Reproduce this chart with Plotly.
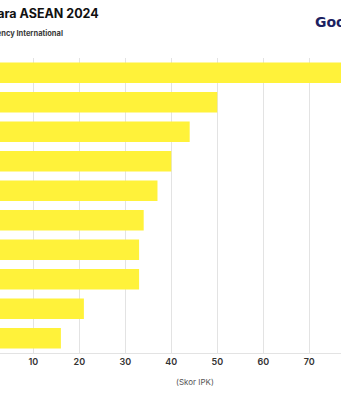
import plotly.graph_objects as go

# Corruption Perceptions Index 2024, ASEAN members (highest first)
countries = ["Singapura", "Malaysia", "Timor Leste", "Vietnam", "Indonesia",
             "Thailand", "Laos", "Filipina", "Kamboja", "Myanmar"]
scores = [84, 50, 44, 40, 37, 34, 33, 33, 21, 16]
x_ticks = [10, 20, 30, 40, 50, 60, 70]

W, H = 341, 400
BAR_COLOR = "#FFF23A"
WIDE = "DejaVu Sans, Verdana, sans-serif"

fig = go.Figure(
    go.Bar(
        x=scores,
        y=countries,
        orientation="h",
        marker=dict(color=BAR_COLOR, line=dict(width=0)),
        hoverinfo="x+y",
    )
)

fig.update_layout(
    width=W,
    height=H,
    margin=dict(l=0, r=0, t=58, b=47),
    paper_bgcolor="white",
    plot_bgcolor="white",
    bargap=0.3,
    showlegend=False,
    font=dict(family="Inter, Roboto, sans-serif", color="#333333"),
    xaxis=dict(
        range=[2.76, 76.9],
        tickvals=x_ticks,
        ticktext=[str(v) for v in x_ticks],
        showgrid=True,
        gridcolor="#E3E3E3",
        gridwidth=1,
        zeroline=False,
        showline=True,
        linecolor="#E3E3E3",
        linewidth=1,
        ticks="",
        tickfont=dict(size=9, color="#333333", family="Inter, sans-serif",
                      weight=600),
        automargin=False,
    ),
    yaxis=dict(
        categoryorder="array",
        categoryarray=countries[::-1],
        showticklabels=False,
        showgrid=False,
        zeroline=False,
        ticks="",
        automargin=False,
    ),
)

annotations = [
    dict(
        text="<b>Indeks Persepsi Korupsi Negara ASEAN 2024</b>",
        x=101 / W, y=14, xref="paper", yref="paper",
        xanchor="right", yanchor="middle",
        font=dict(size=12.5, color="#111111", family="Inter, sans-serif"),
        showarrow=False,
    ),
    dict(
        text="<b>Sumber: Transparency International</b>",
        x=65 / W, y=33, xref="paper", yref="paper",
        xanchor="right", yanchor="middle",
        font=dict(size=7.5, color="#3A3A3A", family="Inter, sans-serif"),
        showarrow=False,
    ),
    dict(
        text="<b>GoodStats</b>",
        x=313 / W, y=22, xref="paper", yref="paper",
        xanchor="left", yanchor="middle",
        font=dict(size=14, color="#1B2161", family=WIDE),
        showarrow=False,
    ),
    dict(
        text="(Skor IPK)",
        x=195 / W, y=382, xref="paper", yref="paper",
        xanchor="center", yanchor="middle",
        font=dict(size=8, color="#555555", family="Inter, sans-serif"),
        showarrow=False,
    ),
]
# convert pixel heights to paper fractions (paper spans the plot area)
plot_top, plot_bottom = 58, H - 47
for a in annotations:
    a["y"] = (plot_bottom - a["y"]) / (plot_bottom - plot_top)
fig.update_layout(annotations=annotations)

fig.write_html("out.html")
